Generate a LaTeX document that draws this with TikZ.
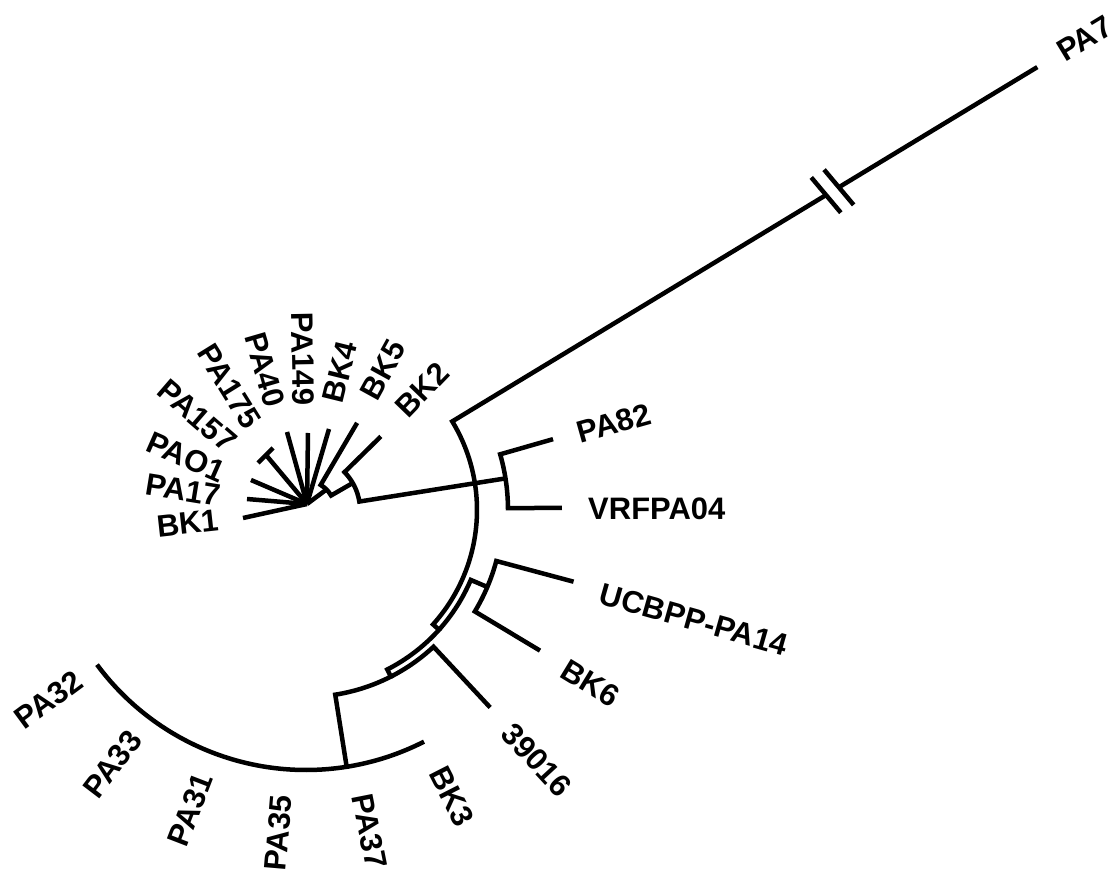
\documentclass[tikz,border=0pt]{standalone}
\usepackage{fontspec}
\setmainfont{Liberation Sans}
\begin{document}
\begin{tikzpicture}[x=1pt,y=1pt,
  br/.style={line width=4.5pt, line join=miter},
  tiplab/.style={font=\bfseries\fontsize{31}{37}\selectfont, inner sep=0pt}]
\useasboundingbox (-306,-367) rectangle (814,510);
% ---- star cluster near the root
\coordinate (S) at (1,6);
\coordinate (tBK1) at (-63,-8);
\coordinate (tPA17) at (-59,11);
\coordinate (tPAO1) at (-55,30);
\coordinate (tT) at (-40,55);
\coordinate (Ta) at (-48,47);
\coordinate (Tb) at (-33,62);
\coordinate (tPA40) at (-19,78);
\coordinate (tPA149) at (2,77);
\coordinate (tBK4) at (23,81);
\coordinate (tBK5) at (59.6:101);
\coordinate (Pa) at (59.6:29);
\coordinate (Pb) at (30:29);
\coordinate (Pm) at (45:29);
\coordinate (Qa) at (44.5:54);
\coordinate (Qb) at (30:54);
\coordinate (tBK2) at (44.5:105);
% ---- PA82 / VRFPA04
\coordinate (Va) at (9:202);
\coordinate (Vt) at (16:202);
\coordinate (tPA82) at (16:257);
\coordinate (tVRF) at (0.5:256);
% ---- main arcs
\coordinate (Xa) at (31.2:171);
\coordinate (PA7in) at (31.2:609);
\coordinate (PA7out) at (31.2:622);
\coordinate (tPA7) at (31.2:855);
\coordinate (m1) at (31.2:608);
\coordinate (m2) at (31.2:623);
\coordinate (Ya) at (-42:179);
\coordinate (Zm) at (-23:197);
\coordinate (Zt) at (-15:197);
\coordinate (tUCB) at (-15:277);
\coordinate (tBK6) at (-31:273);
\coordinate (Wa) at (-63:187);
\coordinate (tA39) at (-47:270);
\coordinate (Ua) at (-81:260);

% star branches
\foreach \t in {tBK1,tPA17,tPAO1,tT,tPA40,tPA149,tBK4}{\draw[br] (S) -- (\t);}
\draw[br] (Ta) -- (Tb);
\draw[br] (Pm) -- (S);
\draw[br] (tBK5) -- (Pa) arc[start angle=59.6, end angle=30, radius=29pt] -- (Qb);
\draw[br] (tBK2) -- (Qa) arc[start angle=44.5, end angle=9, radius=54pt] -- (Va);
\draw[br] (tPA82) -- (Vt) arc[start angle=16, end angle=0.5, radius=202pt] -- (tVRF);
% main chain
\draw[br] (PA7in) -- (Xa) arc[start angle=31.2, end angle=-42, radius=171pt] -- (Ya)
  arc[start angle=-42, end angle=-63, radius=179pt] -- (Wa)
  arc[start angle=-63, end angle=-81, radius=187pt] -- (Ua)
  arc[start angle=-81, end angle=-143.5, radius=260pt];
\draw[br] (PA7out) -- (tPA7);
\draw[br, shift={(m1)}] (-50:23) -- (130:23);
\draw[br, shift={(m2)}] (-50:23) -- (130:23);
\draw[br] (Ya) arc[start angle=-42, end angle=-23, radius=179pt] -- (Zm);
\draw[br] (tUCB) -- (Zt) arc[start angle=-15, end angle=-31, radius=197pt] -- (tBK6);
\draw[br] (Wa) arc[start angle=-63, end angle=-47, radius=187pt] -- (tA39);
\draw[br] (Ua) arc[start angle=-81, end angle=-63, radius=260pt];

% labels, left side
\node[tiplab, anchor=east, rotate=6.3] (lBK1) at (186.3:87.7) {BK1};
\node[tiplab, anchor=east, rotate=-9.2] (lPA17) at (170.8:86.8) {PA17};
\node[tiplab, anchor=east, rotate=-23.7] (lPAO1) at (156.3:89.8) {PAO1};
\node[tiplab, anchor=east, rotate=-40.8] (lPA157) at (139.2:97.6) {PA157};
\node[tiplab, anchor=east, rotate=-58.2] (lPA175) at (121.8:98.6) {PA175};
\node[tiplab, anchor=east, rotate=-73.8] (lPA40) at (106.2:108) {PA40};
\node[tiplab, anchor=east, rotate=-88.9] (lPA149) at (91.1:104.6) {PA149};
\node[tiplab, anchor=east, rotate=85.1] (lPA35) at (265.1:286.5) {PA35};
\node[tiplab, anchor=east, rotate=68.9] (lPA31) at (248.9:283) {PA31};
\node[tiplab, anchor=east, rotate=52.7] (lPA33) at (232.7:281.7) {PA33};
\node[tiplab, anchor=east, rotate=36.4] (lPA32) at (216.4:281.7) {PA32};
% labels, right side
\node[tiplab, anchor=west, rotate=76.2] (lBK4) at (76.2:111) {BK4};
\node[tiplab, anchor=west, rotate=61.2] (lBK5) at (61.2:128.8) {BK5};
\node[tiplab, anchor=west, rotate=46] (lBK2) at (46:136) {BK2};
\node[tiplab, anchor=west, rotate=31.2] (lPA7) at (31.2:881) {PA7};
\node[tiplab, anchor=west, rotate=15.7] (lPA82) at (15.7:282) {PA82};
\node[tiplab, anchor=west, rotate=0.2] (lVRF) at (0.2:282) {VRFPA04};
\node[tiplab, anchor=west, rotate=-15.8] (lUCB) at (-15.8:306) {UCBPP-PA14};
\node[tiplab, anchor=west, rotate=-31.3] (lBK6) at (-31.3:302) {BK6};
\node[tiplab, anchor=west, rotate=-47.3] (l39) at (-47.3:297) {39016};
\node[tiplab, anchor=west, rotate=-63] (lBK3) at (-63:290) {BK3};
\node[tiplab, anchor=west, rotate=-78.8] (lPA37) at (-78.8:289.5) {PA37};
\end{tikzpicture}
\end{document}
